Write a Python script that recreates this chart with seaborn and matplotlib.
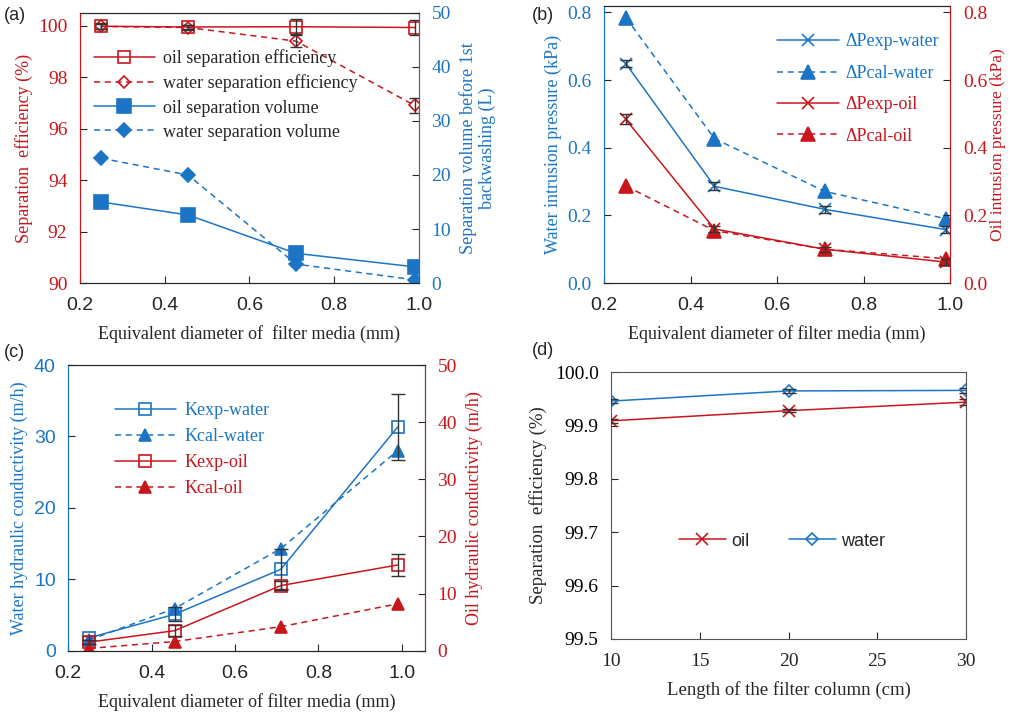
import numpy as np
import matplotlib.pyplot as plt
import seaborn as sns

sns.set_style('ticks')
plt.rcParams['font.family'] = ['Liberation Serif', 'DejaVu Serif']

red = '#C8161D'
blue = '#1C75C4'
ebar = '#333333'
SERIF = 'Liberation Serif'
SANS = 'Liberation Sans'

# ---- data ----
d_media = [0.25, 0.455, 0.71, 0.99]

# (a) separation efficiency / volume
oil_eff = [99.98, 99.95, 99.96, 99.93]
oil_eff_err = [0.12, 0.08, 0.30, 0.30]
water_eff = [99.97, 99.93, 99.40, 96.90]
water_eff_err = [0.08, 0.08, 0.22, 0.30]
oil_vol = [15.0, 12.6, 5.5, 3.0]
water_vol = [23.1, 20.0, 3.5, 0.6]

# (b) intrusion pressure
dp_exp_water = [0.649, 0.286, 0.218, 0.158]
dp_exp_water_err = [0.010, 0.012, 0.010, 0.010]
dp_cal_water = [0.785, 0.427, 0.271, 0.190]
dp_exp_oil = [0.484, 0.160, 0.100, 0.062]
dp_exp_oil_err = [0.015, 0.010, 0.008, 0.008]
dp_cal_oil = [0.287, 0.155, 0.100, 0.072]

# (c) hydraulic conductivity
k_exp_water = [1.8, 5.1, 11.4, 31.3]
k_exp_water_err = [0.3, 1.0, 2.8, 4.6]
k_cal_water = [1.5, 5.9, 14.3, 28.0]
k_exp_oil = [1.5, 3.5, 11.4, 15.0]
k_exp_oil_err = [0.3, 1.0, 0.8, 2.0]
k_cal_oil = [0.4, 1.6, 4.2, 8.2]

# (d) column length
col_len = [10, 20, 30]
sep_oil = [99.909, 99.928, 99.944]
sep_oil_err = [0.004, 0.003, 0.005]
sep_water = [99.946, 99.965, 99.966]
sep_water_err = [0.003, 0.003, 0.004]


def draw(ax, x, y, color, marker, ls='-', hollow=False, ms=8, label=None):
    sns.lineplot(x=x, y=y, ax=ax, color=color, marker=marker, linestyle=ls,
                 markersize=ms, markerfacecolor='none' if hollow else color,
                 markeredgecolor=color, markeredgewidth=1.2, linewidth=1.1,
                 estimator=None, sort=False, legend=False, label=label)
    return ax.get_lines()[-1]


def errs(ax, x, y, e, cap=4):
    ax.errorbar(x, y, yerr=e, fmt='none', ecolor=ebar, elinewidth=1.0,
                capsize=cap, capthick=1.0, zorder=5)


def style(ax, fam_x, fam_y, ycol='black', fs=14):
    ax.tick_params(axis='x', direction='in', length=5, pad=10, labelsize=fs,
                   labelfontfamily=fam_x)
    ax.tick_params(axis='y', direction='in', length=5, pad=9, labelsize=fs,
                   labelfontfamily=fam_y, labelcolor=ycol)


dashed = (0, (4, 3))
LFS = 13

fig = plt.figure(figsize=(10.12, 7.13), dpi=100)

# ================= (a) =================
ax = fig.add_axes([0.079, 0.603, 0.335, 0.379])
ax2 = ax.twinx()
h1 = draw(ax, d_media, oil_eff, red, 's', hollow=True, ms=8, label='oil separation efficiency')
errs(ax, d_media, oil_eff, oil_eff_err)
h2 = draw(ax, d_media, water_eff, red, 'D', ls=dashed, hollow=True, ms=6, label='water separation efficiency')
errs(ax, d_media, water_eff, water_eff_err)
h3 = draw(ax2, d_media, oil_vol, blue, 's', ms=10, label='oil separation volume')
h4 = draw(ax2, d_media, water_vol, blue, 'D', ls=dashed, ms=7, label='water separation volume')
ax.set_xlim(0.2, 1.0)
ax.set_ylim(90, 100.5)
ax2.set_ylim(0, 50)
ax.set_xticks(np.arange(0.2, 1.01, 0.2))
ax.set_yticks(np.arange(90, 101, 2))
ax2.set_yticks(np.arange(0, 51, 10))
ax.xaxis.set_major_formatter('{x:.1f}')
style(ax, SANS, SERIF, red)
style(ax2, SANS, SERIF, blue)
ax.set_xlabel('Equivalent diameter of  filter media (mm)', fontsize=LFS, labelpad=8)
ax.set_ylabel('Separation  efficiency (%)', fontsize=LFS, color=red, labelpad=4)
ax2.set_ylabel('Separation volume before 1st\nbackwashing (L)', fontsize=LFS,
               color=blue, labelpad=6, linespacing=1.1)
ax2.spines['right'].set_color(blue)
ax2.spines['left'].set_color(red)
ax.legend(handles=[h1, h2, h3, h4], loc='upper left', bbox_to_anchor=(0.04, 0.865),
          frameon=False, fontsize=LFS, handlelength=3.4, handletextpad=0.45,
          labelspacing=0.4, borderaxespad=0, borderpad=0)

# ================= (b) =================
bx = fig.add_axes([0.597, 0.603, 0.342, 0.389])
bx2 = bx.twinx()
g1 = draw(bx, d_media, dp_exp_water, blue, 'x', ms=8, label='ΔPexp-water')
errs(bx, d_media, dp_exp_water, dp_exp_water_err)
g2 = draw(bx, d_media, dp_cal_water, blue, '^', ls=dashed, ms=10, label='ΔPcal-water')
g3 = draw(bx2, d_media, dp_exp_oil, red, 'x', ms=8, label='ΔPexp-oil')
errs(bx2, d_media, dp_exp_oil, dp_exp_oil_err)
g4 = draw(bx2, d_media, dp_cal_oil, red, '^', ls=dashed, ms=10, label='ΔPcal-oil')
bx.set_xlim(0.2, 1.0)
bx.set_ylim(0, 0.82)
bx2.set_ylim(0, 0.82)
bx.set_xticks(np.arange(0.2, 1.01, 0.2))
bx.set_yticks(np.arange(0, 0.81, 0.2))
bx2.set_yticks(np.arange(0, 0.81, 0.2))
bx.xaxis.set_major_formatter('{x:.1f}')
bx.yaxis.set_major_formatter('{x:.1f}')
bx2.yaxis.set_major_formatter('{x:.1f}')
style(bx, SANS, SERIF, blue)
style(bx2, SANS, SERIF, red)
bx.set_xlabel('Equivalent diameter of filter media (mm)', fontsize=LFS, labelpad=8)
bx.set_ylabel('Water intrusion pressure (kPa)', fontsize=LFS, color=blue, labelpad=4)
bx2.set_ylabel('Oil intrusion pressure (kPa)', fontsize=12.5, color=red, labelpad=2)
bx2.spines['left'].set_color(blue)
bx2.spines['right'].set_color(red)
leg = bx.legend(handles=[g1, g2, g3, g4], loc='upper left', bbox_to_anchor=(0.5, 0.9),
                frameon=False, fontsize=LFS, handlelength=3.4, handletextpad=0.4,
                labelspacing=0.8, borderaxespad=0, borderpad=0)
for t, c in zip(leg.get_texts(), [blue, blue, red, red]):
    t.set_color(c)

# ================= (c) =================
cx = fig.add_axes([0.0675, 0.0874, 0.3525, 0.4006])
cx2 = cx.twinx()
f1 = draw(cx, d_media, k_exp_water, blue, 's', hollow=True, ms=8, label='Kexp-water')
errs(cx, d_media, k_exp_water, k_exp_water_err, cap=5)
f2 = draw(cx, d_media, k_cal_water, blue, '^', ls=dashed, ms=9, label='Kcal-water')
f3 = draw(cx2, d_media, k_exp_oil, red, 's', hollow=True, ms=8, label='Kexp-oil')
errs(cx2, d_media, k_exp_oil, k_exp_oil_err, cap=5)
f4 = draw(cx2, d_media, k_cal_oil, red, '^', ls=dashed, ms=9, label='Kcal-oil')
cx.set_xlim(0.2, 1.056)
cx.set_ylim(0, 40)
cx2.set_ylim(0, 50)
cx.set_xticks(np.arange(0.2, 1.01, 0.2))
cx.set_yticks(np.arange(0, 41, 10))
cx2.set_yticks(np.arange(0, 51, 10))
cx.xaxis.set_major_formatter('{x:.1f}')
style(cx, SANS, SANS, blue)
style(cx2, SANS, SERIF, red)
cx.set_xlabel('Equivalent diameter of filter media (mm)', fontsize=LFS, labelpad=8)
cx.set_ylabel('Water hydraulic conductivity (m/h)', fontsize=LFS, color=blue, labelpad=4)
cx2.set_ylabel('Oil hydraulic conductivity (m/h)', fontsize=LFS, color=red, labelpad=6)
cx2.spines['left'].set_color(blue)
cx2.spines['right'].set_color(red)
leg = cx.legend(handles=[f1, f2, f3, f4], loc='upper left', bbox_to_anchor=(0.13, 0.87),
                frameon=False, fontsize=LFS, handlelength=3.4, handletextpad=0.45,
                labelspacing=0.5, borderaxespad=0, borderpad=0)
for t, c in zip(leg.get_texts(), [blue, blue, red, red]):
    t.set_color(c)

# ================= (d) =================
dx = fig.add_axes([0.604, 0.1038, 0.3505, 0.3741])
e1 = draw(dx, col_len, sep_oil, red, 'x', ms=8, label='oil')
errs(dx, col_len, sep_oil, sep_oil_err, cap=5)
e2 = draw(dx, col_len, sep_water, blue, 'D', hollow=True, ms=6, label='water')
errs(dx, col_len, sep_water, sep_water_err, cap=5)
dx.set_xlim(10, 30)
dx.set_ylim(99.5, 100.0)
dx.set_xticks(np.arange(10, 31, 5))
dx.set_yticks(np.arange(99.5, 100.01, 0.1))
dx.yaxis.set_major_formatter('{x:.1f}')
style(dx, SERIF, SERIF, 'black')
for s in dx.spines.values():
    s.set_color('#555555')
dx.set_xlabel('Length of the filter column (cm)', fontsize=13.5, labelpad=8)
dx.set_ylabel('Separation  efficiency (%)', fontsize=13.5, labelpad=6)
leg = dx.legend(handles=[e1, e2], loc='center left', bbox_to_anchor=(0.19, 0.367),
                ncol=2, frameon=False, handlelength=2.6, handletextpad=0.3,
                columnspacing=2.2, borderaxespad=0, borderpad=0,
                prop={'family': SANS, 'size': 13})

# panel labels
for txt, x, y in [('(a)', 0.004, 0.978), ('(b)', 0.526, 0.978),
                  ('(c)', 0.004, 0.505), ('(d)', 0.526, 0.508)]:
    fig.text(x, y, txt, fontsize=13, family=SANS, va='center')

fig.savefig('out.png', dpi=100)
